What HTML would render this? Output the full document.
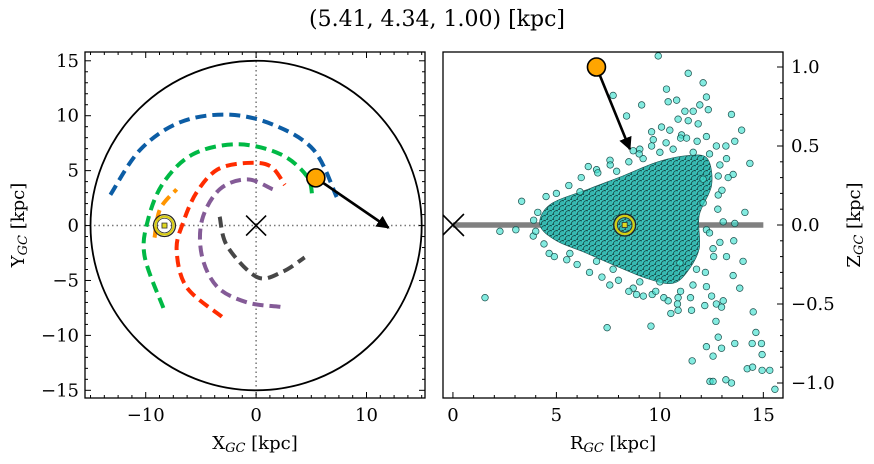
<!DOCTYPE html>
<html><head><meta charset="utf-8"><style>
body{margin:0;background:#fff;}
svg{display:block;font-family:"DejaVu Serif","Liberation Serif",serif;}
</style></head><body>
<svg id="fig" width="874" height="464" viewBox="0 0 874 464" xmlns="http://www.w3.org/2000/svg">
<defs>
<pattern id="dense" width="6" height="5" patternUnits="userSpaceOnUse">
<rect width="6" height="5" fill="#1f8a84"/>
<circle cx="1.5" cy="1.2" r="3.1" fill="#3cc4bc" stroke="#164a47" stroke-width="0.8"/>
<circle cx="4.5" cy="3.7" r="3.1" fill="#36b8b0" stroke="#164a47" stroke-width="0.8"/>
</pattern>
<clipPath id="clipL"><rect x="85" y="52" width="340" height="346"/></clipPath>
<clipPath id="clipR"><rect x="443" y="52" width="340" height="346"/></clipPath>
<marker id="ah" viewBox="0 0 10 10" refX="9" refY="5" markerWidth="5" markerHeight="5" orient="auto"><path d="M0,0 L10,5 L0,10 z" fill="#000"/></marker>
</defs>
<text x="437" y="26" font-size="22" text-anchor="middle">(5.41, 4.34, 1.00) [kpc]</text>
<g id="left"></g>
<g id="right"></g>
</svg>
<script>
const NS="http://www.w3.org/2000/svg";
// ---------- data ----------
const xyTicks=[-15,-10,-5,0,5,10,15];
const xTickLabels=[-10,0,10];
const star=[5.41,4.34,1.00];
const sunXY=[-8.3,0];
const arrowEndXY=[12.0,-0.2];
const arrowEndRZ=[8.55,0.48];
const galaxyRadius=15;
const orbitBlueX=[-13.2,-10.5,-6.9,-2.6,1.5,5.2,7.3];
const orbitBlueY=[2.8,6.9,9.4,10.1,9.2,6.9,2.6];
const orbitGreenX=[-8.4,-10.1,-9.8,-8.4,-5.7,-1.7,2.2,4.6,5.1];
const orbitGreenY=[-7.5,-2.8,0.5,3.9,6.5,7.4,6.5,4.5,2.6];
const orbitOrangeX=[-9.2,-8.7,-7.2];
const orbitOrangeY=[-1.1,1.5,3.3];
const orbitRedX=[-3.1,-6.3,-7.2,-6.6,-5.4,-3.5,-0.8,1.3,2.6];
const orbitRedY=[-8.3,-5.6,-2.2,0.3,3.0,5.1,5.7,5.4,3.7];
const orbitPurpleX=[2.2,-0.8,-3.5,-4.9,-4.9,-3.3,-0.8,1.5];
const orbitPurpleY=[-7.4,-7.0,-5.6,-2.8,0.5,3.3,4.2,3.3];
const orbitGreyX=[-3.3,-2.6,0.1,2.4,4.4];
const orbitGreyY=[0.8,-1.9,-4.7,-4.2,-2.9];
const rTicks=[0,5,10,15];
const zTicks=[-1.0,-0.5,0.0,0.5,1.0];
const zTickLabels=["\u22121.0","\u22120.5","0.0","0.5","1.0"];
const coreR=[4.2,4.7,6.6,8.2,9.9,11.4,12.3,12.5,11.9,11.9,11.3,10.6,9.4,7.7,6.3,5.0];
const coreZ=[0,0.13,0.23,0.31,0.40,0.44,0.42,0.25,0.06,-0.15,-0.30,-0.37,-0.34,-0.25,-0.17,-0.10];
const starsR=[9.92,11.37,12.09,10.32,7.74,12.25,10.40,10.81,9.12,11.93,12.34,11.21,11.61,13.46,8.39,10.88,11.37,11.85,10.08,10.48,13.95,9.60,11.05,12.25,9.68,11.29,13.62,9.03,8.71,10.00,6.54,6.94,7.59,14.35,13.22,13.54,12.82,14.11,13.62,13.06,3.32,2.27,3.04,3.88,4.65,5.65,1.55,7.45,9.57,7.58,8.71,8.87,9.63,10.19,10.88,10.85,10.53,10.88,11.48,11.53,12.17,12.25,12.50,12.73,13.06,12.98,13.86,14.02,13.54,13.57,12.90,13.22,12.71,12.82,12.25,12.57,12.98,11.56,13.62,14.51,14.64,14.46,14.91,14.94,14.22,14.48,14.94,15.31,12.42,12.57,13.19,13.46,15.56,6.14,7.91,9.19,10.64,11.61,12.73,13.19,12.82,12.09,6.94,7.74,9.03,10.0,10.97,11.77,12.57,12.25,12.09,
4.5,5.0,5.6,6.2,7.0,7.6,8.5,9.0,9.6,10.3,11.0,11.8,12.4,12.9,13.3,4.4,4.9,5.5,6.0,6.6,7.2,8.0,8.5,9.2,9.8,10.4,11.0,11.6,12.2,12.6,12.4,12.8,13.0,3.9,4.0,4.1];
const starsZ=[1.07,0.96,0.90,0.86,0.82,0.81,0.78,0.79,0.76,0.76,0.73,0.72,0.72,0.70,0.69,0.67,0.66,0.64,0.62,0.60,0.60,0.59,0.57,0.56,0.54,0.55,0.53,0.48,0.47,0.46,0.37,0.35,0.41,0.39,0.42,0.32,0.19,0.08,0.01,0.02,0.15,-0.04,-0.03,-0.07,-0.18,-0.18,-0.46,-0.65,-0.64,-0.38,-0.40,-0.44,-0.44,-0.46,-0.46,-0.50,-0.56,-0.54,-0.46,-0.54,-0.51,-0.39,-0.45,-0.50,-0.48,-0.52,-0.40,-0.23,-0.32,-0.10,-0.11,-0.20,-0.61,-0.71,-0.77,-0.83,-0.78,-0.86,-0.75,-0.55,-0.68,-0.75,-0.75,-0.82,-0.91,-0.90,-0.92,-0.92,-0.99,-0.99,-0.98,-1.00,-1.04,0.21,0.34,0.42,0.48,0.46,0.50,0.50,0.31,0.29,-0.23,-0.28,-0.36,-0.36,-0.24,-0.28,-0.15,-0.03,0.14,
0.18,0.2,0.25,0.3,0.33,0.38,0.4,0.45,0.5,0.52,0.55,0.53,0.45,0.38,0.3,-0.12,-0.2,-0.22,-0.25,-0.3,-0.33,-0.35,-0.42,-0.45,-0.42,-0.48,-0.42,-0.38,-0.3,-0.2,-0.05,0.1,0.22,0.03,-0.04,0.08];

// ---------- helpers ----------
function el(tag,attrs,parent){const e=document.createElementNS(NS,tag);for(const k in attrs)e.setAttribute(k,attrs[k]);parent.appendChild(e);return e;}
function txt(s,attrs,parent){const e=el('text',attrs,parent);e.textContent=s;return e;}
const L={x0:85,x1:425,y0:52,y1:398,xmin:-15.5,xmax:15.3,ymin:-15.7,ymax:15.8};
const R={x0:443,x1:783,y0:52,y1:398,xmin:-0.48,xmax:15.95,ymin:-1.095,ymax:1.095};
const sx=(a,v)=>a.x0+(v-a.xmin)/(a.xmax-a.xmin)*(a.x1-a.x0);
const sy=(a,v)=>a.y1-(v-a.ymin)/(a.ymax-a.ymin)*(a.y1-a.y0);
function smoothPath(a,xs,ys,closed){
  const p=xs.map((x,i)=>[sx(a,x),sy(a,ys[i])]);
  const n=p.length;
  const g=i=>closed?p[(i+n)%n]:p[Math.max(0,Math.min(n-1,i))];
  let d=`M${p[0][0]},${p[0][1]}`;
  const m=closed?n:n-1;
  for(let i=0;i<m;i++){
    const p0=g(i-1),p1=g(i),p2=g(i+1),p3=g(i+2);
    d+=` C${p1[0]+(p2[0]-p0[0])/6},${p1[1]+(p2[1]-p0[1])/6} ${p2[0]-(p3[0]-p1[0])/6},${p2[1]-(p3[1]-p1[1])/6} ${p2[0]},${p2[1]}`;
  }
  return d+(closed?'Z':'');
}
function sunSymbol(g,cx,cy){
  el('circle',{cx,cy,r:11,fill:'none',stroke:'#222','stroke-width':1.2},g);
  el('circle',{cx,cy,r:9,fill:'none',stroke:'#d8cc10','stroke-width':2.2},g);
  el('circle',{cx,cy,r:7.3,fill:'none',stroke:'#333','stroke-width':0.8},g);
  el('rect',{x:cx-2.5,y:cy-2.5,width:5,height:5,fill:'#e0d820',stroke:'#333','stroke-width':0.8},g);
}
function cross(g,cx,cy,s){
  el('path',{d:`M${cx-s},${cy-s}L${cx+s},${cy+s}M${cx-s},${cy+s}L${cx+s},${cy-s}`,stroke:'#000','stroke-width':1.6,fill:'none'},g);
}

// ---------- left panel ----------
const gl=document.getElementById('left');


const lc=el('g',{'clip-path':'url(#clipL)'},gl);
const ox=sx(L,0),oy=sy(L,0);
const vline=el('line',{x1:ox,y1:L.y0,x2:ox,y2:L.y1,stroke:'#777','stroke-width':1.5,'stroke-dasharray':'1.5,3'},lc);


const hline=el('line',{x1:L.x0,y1:oy,x2:L.x1,y2:oy,stroke:'#777','stroke-width':1.5,'stroke-dasharray':'1.5,3'},lc);


const circ=el('ellipse',{cx:ox,cy:oy,rx:sx(L,galaxyRadius)-ox,ry:oy-sy(L,galaxyRadius),fill:'none',stroke:'#000','stroke-width':1.8},lc);


const orbits=[['orbit-blue',orbitBlueX,orbitBlueY,'#0c5da5'],['orbit-green',orbitGreenX,orbitGreenY,'#00b945'],['orbit-orange',orbitOrangeX,orbitOrangeY,'#ff9500'],['orbit-red',orbitRedX,orbitRedY,'#ff2c00'],['orbit-purple',orbitPurpleX,orbitPurpleY,'#845b97'],['orbit-grey',orbitGreyX,orbitGreyY,'#474747']];
orbits.forEach(o=>{
  const p=el('path',{d:smoothPath(L,o[1],o[2],false),fill:'none',stroke:o[3],'stroke-width':4,'stroke-dasharray':'11,6'},lc);
  
  
});
cross(lc,ox,oy,10);
const sunL=el('g',{},lc);


sunSymbol(sunL,sx(L,sunXY[0]),sy(L,sunXY[1]));
const arrL=el('line',{x1:sx(L,star[0]),y1:sy(L,star[1]),x2:sx(L,arrowEndXY[0]),y2:sy(L,arrowEndXY[1]),stroke:'#000','stroke-width':2.6,'marker-end':'url(#ah)'},lc);


const stL=el('circle',{cx:sx(L,star[0]),cy:sy(L,star[1]),r:9,fill:'#ffa500',stroke:'#000','stroke-width':1.6},lc);


el('rect',{x:L.x0,y:L.y0,width:L.x1-L.x0,height:L.y1-L.y0,fill:'none',stroke:'#000','stroke-width':1.3},gl);
for(let v=-15;v<=15.01;v+=1.25){const X=sx(L,v);const mj=Math.abs(v%10)<0.01;const t=mj?6:3;
  el('line',{x1:X,y1:L.y1,x2:X,y2:L.y1-t,stroke:'#000','stroke-width':1},gl);
  el('line',{x1:X,y1:L.y0,x2:X,y2:L.y0+t,stroke:'#000','stroke-width':1},gl);}
for(let v=-15;v<=15;v++){const Y=sy(L,v);const t=(v%5===0)?6:3;
  el('line',{x1:L.x0,y1:Y,x2:L.x0+t,y2:Y,stroke:'#000','stroke-width':1},gl);
  el('line',{x1:L.x1,y1:Y,x2:L.x1-t,y2:Y,stroke:'#000','stroke-width':1},gl);}
xTickLabels.forEach(v=>{const t=txt(v<0?'\u2212'+(-v):String(v),{x:sx(L,v),y:L.y1+23,'font-size':18,'text-anchor':'middle'},gl);
  
  });
xyTicks.forEach(v=>{const t=txt(v<0?'\u2212'+(-v):String(v),{x:L.x0-6,y:sy(L,v)+6,'font-size':18,'text-anchor':'end'},gl);
  
  });
const xlab=txt('',{x:(L.x0+L.x1)/2,y:449,'font-size':18,'text-anchor':'middle'},gl);
xlab.innerHTML='X<tspan font-size="13" font-style="italic" dy="3">GC</tspan><tspan dy="-3"> [kpc]</tspan>';


const ylab=txt('',{x:0,y:0,'font-size':18,'text-anchor':'middle',transform:`translate(24,${(L.y0+L.y1)/2}) rotate(-90)`},gl);
ylab.innerHTML='Y<tspan font-size="13" font-style="italic" dy="3">GC</tspan><tspan dy="-3"> [kpc]</tspan>';



// ---------- right panel ----------
const gr=document.getElementById('right');


const rc=el('g',{'clip-path':'url(#clipR)'},gr);
const plane=el('line',{x1:sx(R,0),y1:sy(R,0),x2:sx(R,15),y2:sy(R,0),stroke:'#808080','stroke-width':5.5},rc);


const core=el('path',{d:smoothPath(R,coreR,coreZ,true),fill:'url(#dense)',stroke:'#1c5552','stroke-width':0.6},rc);


starsR.forEach((r,i)=>{
  const c=el('circle',{cx:sx(R,r),cy:sy(R,starsZ[i]),r:3.3,fill:'rgba(64,224,208,0.65)',stroke:'#1c4f4c','stroke-width':0.7},rc);
  
  
});
cross(rc,sx(R,0),sy(R,0),11);
const sunR=el('g',{},rc);


sunSymbol(sunR,sx(R,-sunXY[0]),sy(R,0));
const starRr=Math.hypot(star[0],star[1]);
const arrR=el('line',{x1:sx(R,starRr),y1:sy(R,star[2]),x2:sx(R,arrowEndRZ[0]),y2:sy(R,arrowEndRZ[1]),stroke:'#000','stroke-width':2.6,'marker-end':'url(#ah)'},rc);


const stR=el('circle',{cx:sx(R,starRr),cy:sy(R,star[2]),r:9,fill:'#ffa500',stroke:'#000','stroke-width':1.6},rc);


el('rect',{x:R.x0,y:R.y0,width:R.x1-R.x0,height:R.y1-R.y0,fill:'none',stroke:'#000','stroke-width':1.3},gr);
for(let v=0;v<=15;v++){const X=sx(R,v);const t=(v%5===0)?6:3;
  el('line',{x1:X,y1:R.y1,x2:X,y2:R.y1-t,stroke:'#000','stroke-width':1},gr);}
for(let k=-10;k<=10;k++){const v=k/10;const Y=sy(R,v);const t=(k%5===0)?6:3;
  el('line',{x1:R.x1,y1:Y,x2:R.x1-t,y2:Y,stroke:'#000','stroke-width':1},gr);}
rTicks.forEach(v=>{const t=txt(String(v),{x:sx(R,v),y:R.y1+23,'font-size':18,'text-anchor':'middle'},gr);
  
  });
zTicks.forEach((v,i)=>{const t=txt(zTickLabels[i],{x:R.x1+8,y:sy(R,v)+6,'font-size':18,'text-anchor':'start'},gr);
  
  });
const rlab=txt('',{x:(R.x0+R.x1)/2,y:449,'font-size':18,'text-anchor':'middle'},gr);
rlab.innerHTML='R<tspan font-size="13" font-style="italic" dy="3">GC</tspan><tspan dy="-3"> [kpc]</tspan>';


const zlab=txt('',{x:0,y:0,'font-size':18,'text-anchor':'middle',transform:`translate(860,${(R.y0+R.y1)/2}) rotate(-90)`},gr);
zlab.innerHTML='Z<tspan font-size="13" font-style="italic" dy="3">GC</tspan><tspan dy="-3"> [kpc]</tspan>';


</script>
</body></html>
